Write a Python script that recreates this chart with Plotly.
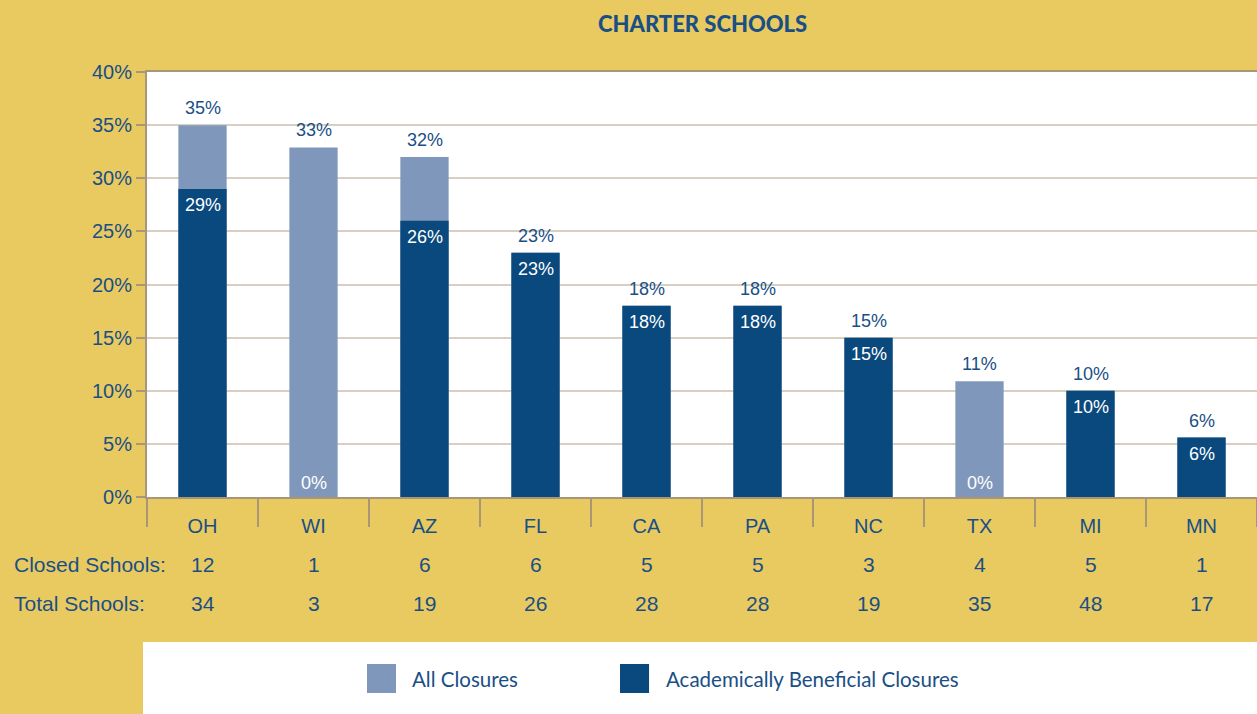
import plotly.graph_objects as go

states = ["OH", "WI", "AZ", "FL", "CA", "PA", "NC", "TX", "MI", "MN"]
all_closures = [35.0, 32.9, 32.0, 23.0, 18.0, 18.0, 15.0, 10.9, 10.0, 5.6]
academic_closures = [29.0, 0.0, 26.0, 23.0, 18.0, 18.0, 15.0, 0.0, 10.0, 5.6]
closed_schools = [12, 1, 6, 6, 5, 5, 3, 4, 5, 1]
total_schools = [34, 3, 19, 26, 28, 28, 19, 35, 48, 17]
y_ticks = [0, 5, 10, 15, 20, 25, 30, 35, 40]
y_tick_text = [f"{v}%" for v in y_ticks]

GOLD = "#E9CA60"
LIGHT = "#7F97BA"
DARK = "#0A497D"
BLUE_TXT = "#1A4F86"
GRID = "#D6CFC2"
AXIS = "#A89677"
FONT = "Liberation Sans, Arial, sans-serif"
FONT2 = "Lato, Open Sans, sans-serif"

fig = go.Figure()
fig.add_trace(go.Bar(x=states, y=all_closures, name="All Closures",
                     marker=dict(color=LIGHT, line=dict(width=0)), width=0.435,
                     hoverinfo="skip"))
fig.add_trace(go.Bar(x=states, y=academic_closures, name="Academically Beneficial Closures",
                     marker=dict(color=DARK, line=dict(width=0)), width=0.435,
                     hoverinfo="skip"))

ann = []
for s, a, b in zip(states, all_closures, academic_closures):
    ann.append(dict(x=s, y=a, xref="x", yref="y", text=f"{a:.0f}%", showarrow=False,
                    yanchor="middle", yshift=17, font=dict(size=18, color=BLUE_TXT, family=FONT)))
    if b > 0:
        ann.append(dict(x=s, y=b, xref="x", yref="y", text=f"{b:.0f}%", showarrow=False,
                        yanchor="middle", yshift=-16, font=dict(size=18, color="white", family=FONT)))
    else:
        ann.append(dict(x=s, y=0, xref="x", yref="y", text=f"{b:.0f}%", showarrow=False,
                        yanchor="middle", yshift=14, font=dict(size=18, color="white", family=FONT)))

for s, c, t in zip(states, closed_schools, total_schools):
    ann.append(dict(x=s, y=0, xref="x", yref="paper", text=str(c), showarrow=False,
                    yanchor="middle", yshift=-67, font=dict(size=21, color=BLUE_TXT, family=FONT)))
    ann.append(dict(x=s, y=0, xref="x", yref="paper", text=str(t), showarrow=False,
                    yanchor="middle", yshift=-106, font=dict(size=21, color=BLUE_TXT, family=FONT)))

ann.append(dict(x=-0.1216, y=0, xref="paper", yref="paper", text="Closed Schools:",
                showarrow=False, xanchor="left", yanchor="middle", yshift=-67,
                font=dict(size=21, color=BLUE_TXT, family=FONT)))
ann.append(dict(x=-0.1216, y=0, xref="paper", yref="paper", text="Total Schools:",
                showarrow=False, xanchor="left", yanchor="middle", yshift=-106,
                font=dict(size=21, color=BLUE_TXT, family=FONT)))

# title
ann.append(dict(x=0.5, y=1, xref="paper", yref="paper", text="CHARTER SCHOOLS",
                showarrow=False, yanchor="middle", yshift=49,
                font=dict(size=22, color=BLUE_TXT, family=FONT2, weight=900)))

# legend (manual)
shapes = [
    dict(type="rect", xref="paper", yref="paper", x0=-0.0036, x1=1.0, y0=-0.52, y1=-0.3412,
         fillcolor="white", line=dict(width=0), layer="below"),
    dict(type="rect", xref="paper", yref="paper", x0=0.1982, x1=0.2243, y0=-0.4612, y1=-0.3929,
         fillcolor=LIGHT, line=dict(width=0)),
    dict(type="rect", xref="paper", yref="paper", x0=0.4261, x1=0.4523, y0=-0.4612, y1=-0.3929,
         fillcolor=DARK, line=dict(width=0)),
]
ann.append(dict(x=0.2369, y=-0.4282, xref="paper", yref="paper", text="All Closures",
                showarrow=False, xanchor="left", yanchor="middle",
                font=dict(size=20.5, color=BLUE_TXT, family=FONT2)))
ann.append(dict(x=0.4658, y=-0.4282, xref="paper", yref="paper",
                text="Academically Beneficial Closures",
                showarrow=False, xanchor="left", yanchor="middle",
                font=dict(size=20.5, color=BLUE_TXT, family=FONT2)))

fig.update_layout(
    width=1257, height=714,
    margin=dict(l=147, r=0, t=72, b=217),
    paper_bgcolor=GOLD, plot_bgcolor="white",
    barmode="overlay", bargap=0.565,
    showlegend=False,
    annotations=ann, shapes=shapes,
    font=dict(family=FONT, color=BLUE_TXT),
    xaxis=dict(type="category", tickson="boundaries", ticks="outside", ticklen=28,
               tickwidth=1.5, tickcolor=AXIS, showline=True, linecolor=AXIS, linewidth=2,
               mirror=True, showgrid=False, ticklabelstandoff=10,
               tickfont=dict(size=20, color=BLUE_TXT, family=FONT), fixedrange=True),
    yaxis=dict(range=[0, 40], tickvals=y_ticks, ticktext=y_tick_text, ticks="outside", ticklen=9,
               tickwidth=2, tickcolor=AXIS, showline=True, linecolor=AXIS, linewidth=2,
               gridcolor=GRID, gridwidth=2, zeroline=False,
               tickfont=dict(size=20, color=BLUE_TXT, family=FONT), fixedrange=True),
)

fig.write_html("out.html", config={"displayModeBar": False},
               post_script="document.body.style.margin='0';document.body.style.padding='0';")
